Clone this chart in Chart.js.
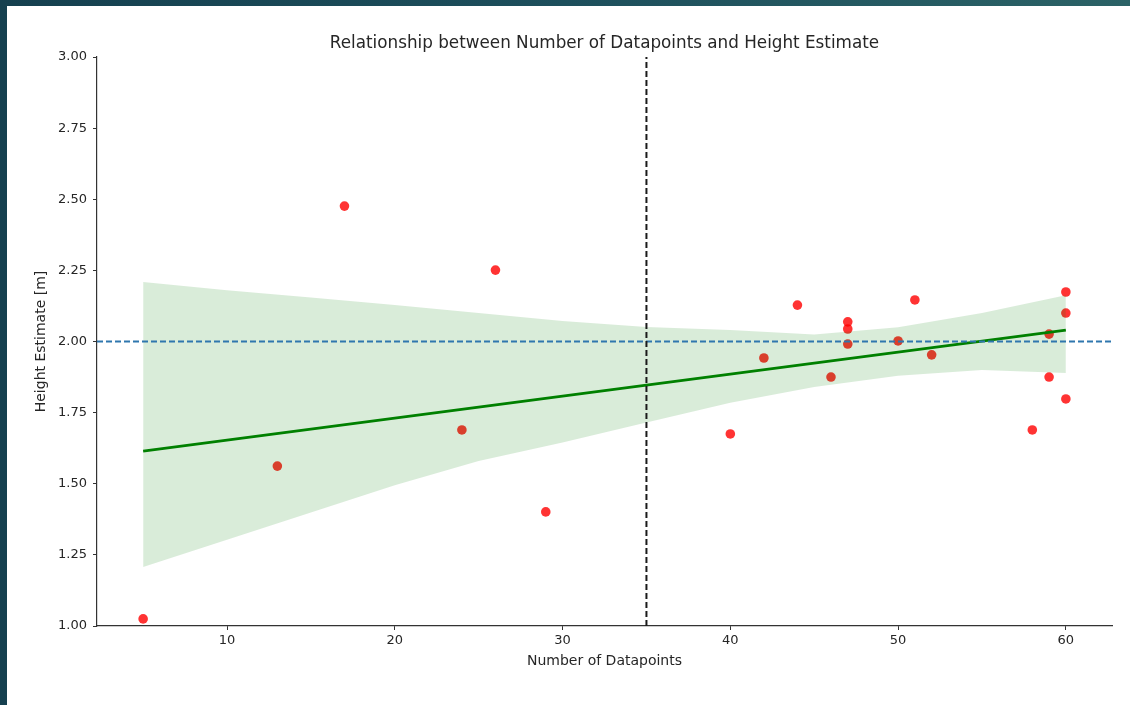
<!DOCTYPE html>
<html>
<head>
<meta charset="utf-8">
<title>Height Estimate vs Number of Datapoints</title>
<script src="https://cdn.jsdelivr.net/npm/chart.js@4.4.1/dist/chart.umd.min.js"></script>
<style>
    html, body {
        margin: 0;
        padding: 0;
        width: 1130px;
        height: 705px;
        overflow: hidden;
        background: linear-gradient(90deg, #15404f 0%, #1d4f5c 50%, #2b6266 100%);
    }
    #panel {
        position: absolute;
        left: 7px;
        top: 6px;
        width: 1123px;
        height: 699px;
        background: #ffffff;
    }
</style>
</head>
<body>
<div id="panel">
    <canvas id="heightChart" width="1123" height="699"></canvas>
</div>
<script>
// ========================================
// データ
// ========================================

// 各データセットの点数と高さ推定値
const datapoints = [5, 13, 17, 24, 26, 29, 40, 42, 44, 46, 47, 47, 47, 50, 51, 52, 58, 59, 59, 60, 60, 60];
const heights = [1.025, 1.562, 2.476, 1.689, 2.251, 1.401, 1.675, 1.942, 2.128, 1.875, 2.069, 2.044, 1.991, 2.002, 2.146, 1.953, 1.689, 2.026, 1.875, 2.174, 2.100, 1.798];

// 回帰直線
const fitX = [5, 60];
const fitY = [1.615, 2.040];

// 信頼区間（読み取り値）
const bandX = [5, 10, 15, 20, 25, 30, 35, 40, 45, 50, 55, 60];
const bandUpper = [2.209, 2.180, 2.155, 2.128, 2.100, 2.072, 2.051, 2.040, 2.025, 2.050, 2.100, 2.163];
const bandLower = [1.207, 1.303, 1.399, 1.495, 1.580, 1.645, 1.715, 1.785, 1.840, 1.880, 1.900, 1.889];

// 参照線
const referenceHeight = 2.0;
const thresholdPoints = 35;

// 軸
const xRange = [2.25, 62.75];
const yRange = [1.0, 3.0];
const xTicks = [10, 20, 30, 40, 50, 60];
const yTicks = [1.00, 1.25, 1.50, 1.75, 2.00, 2.25, 2.50, 2.75, 3.00];

const FONT = "'DejaVu Sans', 'Liberation Sans', sans-serif";
const TEXT_COLOR = '#262626';
const SPINE_COLOR = '#333333';

const toXY = (xs, ys) => xs.map((x, i) => ({ x: x, y: ys[i] }));

// タイトルは軸領域の中央に描く
const axesTitle = {
    id: 'axesTitle',
    afterDraw(chart, args, opts) {
        const { ctx, chartArea } = chart;
        ctx.save();
        ctx.font = `${opts.size}px ${FONT}`;
        ctx.fillStyle = TEXT_COLOR;
        ctx.textAlign = 'center';
        ctx.textBaseline = 'middle';
        ctx.fillText(opts.text, (chartArea.left + chartArea.right) / 2, opts.y);
        ctx.restore();
    }
};

const canvas = document.getElementById('heightChart');

new Chart(canvas, {
    type: 'scatter',
    data: {
        datasets: [
            {
                // 縦の破線
                type: 'line',
                data: toXY([thresholdPoints, thresholdPoints], yRange),
                borderColor: '#1a1a1a',
                borderWidth: 2,
                borderDash: [6, 3],
                pointRadius: 0,
                fill: false,
                order: 0
            },
            {
                // 横の破線
                type: 'line',
                data: toXY(xRange, [referenceHeight, referenceHeight]),
                borderColor: '#2f77ae',
                borderWidth: 1.8,
                borderDash: [6, 3],
                pointRadius: 0,
                fill: false,
                order: 1
            },
            {
                // 回帰直線
                type: 'line',
                data: toXY(fitX, fitY),
                borderColor: '#008000',
                borderWidth: 2.8,
                pointRadius: 0,
                fill: false,
                order: 2
            },
            {
                // 信頼区間 上側
                type: 'line',
                data: toXY(bandX, bandUpper),
                borderWidth: 0,
                borderColor: 'rgba(0,0,0,0)',
                backgroundColor: 'rgba(0, 128, 0, 0.15)',
                pointRadius: 0,
                fill: '+1',
                order: 3
            },
            {
                // 信頼区間 下側
                type: 'line',
                data: toXY(bandX, bandLower),
                borderWidth: 0,
                borderColor: 'rgba(0,0,0,0)',
                pointRadius: 0,
                fill: false,
                order: 4
            },
            {
                // 観測値
                data: toXY(datapoints, heights),
                backgroundColor: 'rgba(255, 0, 0, 0.8)',
                borderWidth: 0,
                pointRadius: 4.8,
                order: 5
            }
        ]
    },
    plugins: [axesTitle],
    options: {
        responsive: false,
        animation: false,
        layout: {
            padding: { top: 51, right: 18, left: 0, bottom: 0 }
        },
        scales: {
            x: {
                type: 'linear',
                min: xRange[0],
                max: xRange[1],
                afterBuildTicks: (scale) => {
                    scale.ticks = xTicks.map(v => ({ value: v }));
                },
                afterFit: (scale) => {
                    scale.height = 79;
                },
                ticks: {
                    color: TEXT_COLOR,
                    font: { family: FONT, size: 13 },
                    padding: 3,
                    maxRotation: 0,
                    callback: (value) => String(value)
                },
                grid: {
                    drawOnChartArea: false,
                    drawTicks: true,
                    tickLength: 4,
                    color: SPINE_COLOR
                },
                border: {
                    display: true,
                    color: SPINE_COLOR,
                    width: 1.2
                },
                title: {
                    display: true,
                    text: 'Number of Datapoints',
                    color: TEXT_COLOR,
                    font: { family: FONT, size: 14 },
                    padding: { top: 0, bottom: 35.5 }
                }
            },
            y: {
                type: 'linear',
                min: yRange[0],
                max: yRange[1],
                afterBuildTicks: (scale) => {
                    scale.ticks = yTicks.map(v => ({ value: v }));
                },
                afterFit: (scale) => {
                    scale.width = 90;
                },
                ticks: {
                    color: TEXT_COLOR,
                    font: { family: FONT, size: 13 },
                    padding: 6,
                    callback: (value) => Number(value).toFixed(2)
                },
                grid: {
                    drawOnChartArea: false,
                    drawTicks: true,
                    tickLength: 4,
                    color: SPINE_COLOR
                },
                border: {
                    display: true,
                    color: SPINE_COLOR,
                    width: 1.2
                },
                title: {
                    display: true,
                    text: 'Height Estimate [m]',
                    color: TEXT_COLOR,
                    font: { family: FONT, size: 14 },
                    padding: { top: 26, bottom: 0 }
                }
            }
        },
        plugins: {
            legend: { display: false },
            tooltip: { enabled: false },
            axesTitle: {
                text: 'Relationship between Number of Datapoints and Height Estimate',
                size: 16.8,
                y: 37.5
            }
        }
    }
});
</script>
</body>
</html>
